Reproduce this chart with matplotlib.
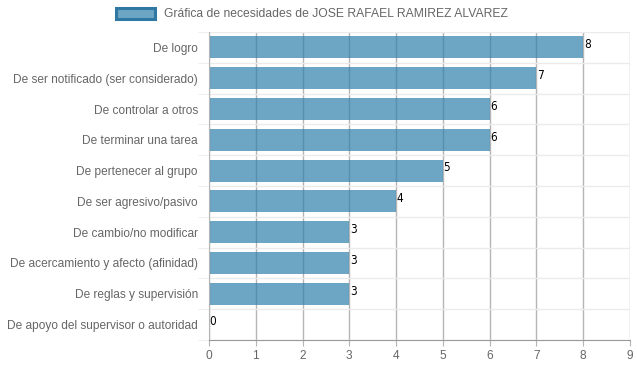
import matplotlib
matplotlib.use('Agg')
import matplotlib.pyplot as plt
from matplotlib.patches import Patch
import numpy as np

plt.rcParams['font.family'] = ['Liberation Sans', 'DejaVu Sans']

# data, top to bottom as in the chart
categories = ['De logro',
              'De ser notificado (ser considerado)',
              'De controlar a otros',
              'De terminar una tarea',
              'De pertenecer al grupo',
              'De ser agresivo/pasivo',
              'De cambio/no modificar',
              'De acercamiento y afecto (afinidad)',
              'De reglas y supervisión',
              'De apoyo del supervisor o autoridad']
values = [8, 7, 6, 6, 5, 4, 3, 3, 3, 0]
legend_label = 'Gráfica de necesidades de JOSE RAFAEL RAMIREZ ALVAREZ'

bar_color = (0.184, 0.498, 0.671, 0.7)
edge_color = '#2e78a3'

fig = plt.figure(figsize=(6.37, 3.71), dpi=100)
ax = fig.add_axes([209/637, 1 - 340/371, (630 - 209)/637, (340 - 32)/371])

pos = np.arange(len(categories))
ax.barh(pos, values, height=0.72, color=bar_color, zorder=2)

for p, v in zip(pos, values):
    ax.annotate(str(v), (v, p), xytext=(0.5, 2.0), textcoords='offset points',
                ha='left', va='center', fontsize=8.5, color='black',
                family='DejaVu Sans', fontstretch='condensed')

ax.set_xlim(0, 9)
ax.set_ylim(len(categories) - 0.5, -0.5)
ax.set_xticks(range(0, 10))
ax.set_yticks(pos)
ax.set_yticklabels(categories)
ax.set_yticks(np.arange(-0.5, len(categories)), minor=True)

ax.set_axisbelow(True)
ax.grid(axis='x', which='major', color='#b5b5b5', linewidth=1)
ax.grid(axis='y', which='minor', color='#ebebeb', linewidth=1)

ax.tick_params(axis='x', length=4, color='#b5b5b5', labelcolor='#666666',
               labelsize=8.6, pad=3)
ax.tick_params(axis='y', which='major', length=0, labelcolor='#666666',
               labelsize=8.6, pad=8)
ax.tick_params(axis='y', which='minor', length=8, color='#ebebeb')

for s in ['top', 'right']:
    ax.spines[s].set_visible(False)
ax.spines['left'].set_color('#b5b5b5')
ax.spines['bottom'].set_color('#999999')

handle = Patch(facecolor=bar_color, edgecolor=edge_color, linewidth=2.2)
fig.legend([handle], [legend_label], loc='center', bbox_to_anchor=(312/637, 1 - 14/371),
           frameon=False, fontsize=8.7, labelcolor='#666666',
           handlelength=3.2, handleheight=1.1, handletextpad=0.75)

fig.savefig('out.png', dpi=100)
